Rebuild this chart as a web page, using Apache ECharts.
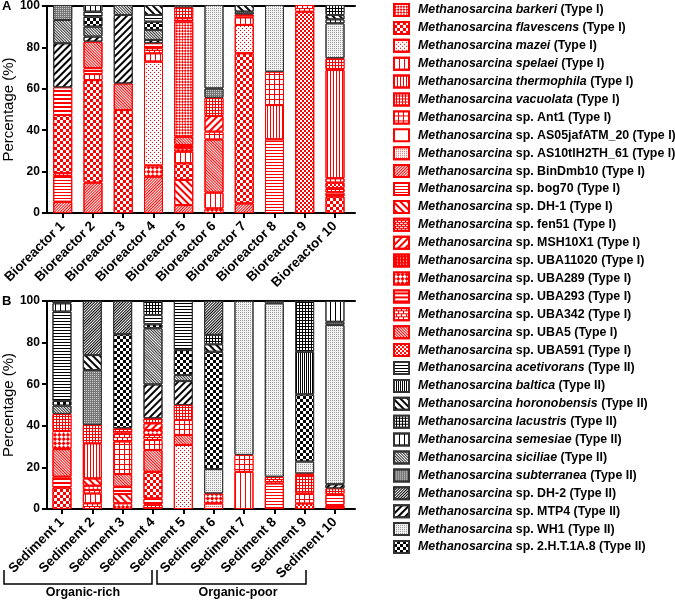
<!DOCTYPE html>
<html><head><meta charset="utf-8">
<script src="https://cdn.jsdelivr.net/npm/echarts@6/dist/echarts.min.js"></script>
<style>html,body{margin:0;padding:0;background:#fff}#c{width:675px;height:601px}</style>
</head><body><div id="c"></div>
<script>
// ---------- DATA ----------
const bioreactorNames = ['Bioreactor 1','Bioreactor 2','Bioreactor 3','Bioreactor 4','Bioreactor 5','Bioreactor 6','Bioreactor 7','Bioreactor 8','Bioreactor 9','Bioreactor 10'];
const sedimentNames = ['Sediment 1','Sediment 2','Sediment 3','Sediment 4','Sediment 5','Sediment 6','Sediment 7','Sediment 8','Sediment 9','Sediment 10'];
const yTicks = [0, 20, 40, 60, 80, 100];

const speciesKeys = ['barkeri','flavescens','mazei','spelaei','thermophila','vacuolata','Ant1','AS05','AS10','BinDmb10','bog70','DH-1','fen51','MSH10X1','UBA11020','UBA289','UBA293','UBA342','UBA5','UBA591',
  'acetivorans','baltica','horonobensis','lacustris','semesiae','siciliae','subterranea','DH-2','MTP4','WH1','2HT'];
const speciesNames = [
  'Methanosarcina barkeri (Type I)','Methanosarcina flavescens (Type I)','Methanosarcina mazei (Type I)','Methanosarcina spelaei (Type I)',
  'Methanosarcina thermophila (Type I)','Methanosarcina vacuolata (Type I)','Methanosarcina sp. Ant1 (Type I)','Methanosarcina sp. AS05jafATM_20 (Type I)',
  'Methanosarcina sp. AS10tlH2TH_61 (Type I)','Methanosarcina sp. BinDmb10 (Type I)','Methanosarcina sp. bog70 (Type I)','Methanosarcina sp. DH-1 (Type I)',
  'Methanosarcina sp. fen51 (Type I)','Methanosarcina sp. MSH10X1 (Type I)','Methanosarcina sp. UBA11020 (Type I)','Methanosarcina sp. UBA289 (Type I)',
  'Methanosarcina sp. UBA293 (Type I)','Methanosarcina sp. UBA342 (Type I)','Methanosarcina sp. UBA5 (Type I)','Methanosarcina sp. UBA591 (Type I)',
  'Methanosarcina acetivorans (Type II)','Methanosarcina baltica (Type II)','Methanosarcina horonobensis (Type II)','Methanosarcina lacustris (Type II)',
  'Methanosarcina semesiae (Type II)','Methanosarcina siciliae (Type II)','Methanosarcina subterranea (Type II)','Methanosarcina sp. DH-2 (Type II)',
  'Methanosarcina sp. MTP4 (Type II)','Methanosarcina sp. WH1 (Type II)','Methanosarcina sp. 2.H.T.1A.8 (Type II)'];

// stacked segments, bottom to top: [species, percentage]
const bioreactor1 = [['BinDmb10',5.4],['bog70',12.4],['fen51',1.3],['flavescens',28],['UBA293',13.3],['MTP4',21.2],['siciliae',11.2],['subterranea',7.2]];
const bioreactor2 = [['BinDmb10',14.6],['flavescens',49.3],['Ant1',2.9],['UBA293',2.8],['UBA5',12.8],['MTP4',2.4],['siciliae',4.8],['2HT',4.8],['acetivorans',2.4],['semesiae',3.2]];
const bioreactor3 = [['flavescens',49.5],['UBA5',12.8],['MTP4',32.9],['siciliae',4.8]];
const bioreactor4 = [['BinDmb10',17.5],['UBA289',5.3],['mazei',50],['spelaei',4],['UBA342',2.4],['UBA293',2.4],['MTP4',1.6],['siciliae',4.8],['2HT',4],['acetivorans',3.2],['horonobensis',4.8]];
const bioreactor5 = [['BinDmb10',3.8],['DH-1',12.1],['flavescens',8],['spelaei',5.6],['UBA289',1.6],['UBA293',1.6],['UBA5',4],['barkeri',55.3],['UBA342',1.6],['vacuolata',5.3],['lacustris',1.1]];
const bioreactor6 = [['UBA289',2.2],['spelaei',7.6],['UBA5',25.6],['Ant1',3.7],['MSH10X1',7.5],['vacuolata',8.8],['subterranea',4.5],['WH1',40.1]];
const bioreactor7 = [['BinDmb10',4.6],['flavescens',72.2],['mazei',13.6],['spelaei',3.7],['UBA293',1.4],['subterranea',1.3],['horonobensis',3.2]];
const bioreactor8 = [['bog70',35.4],['thermophila',16.5],['Ant1',16],['WH1',32.1]];
const bioreactor9 = [['UBA591',96.8],['UBA342',3.2]];
const bioreactor10 = [['flavescens',7.9],['UBA293',1.9],['fen51',2.1],['UBA591',2.7],['spelaei',2.1],['thermophila',52.1],['vacuolata',5.6],['WH1',16.8],['semesiae',1.9],['horonobensis',2.1],['lacustris',4.8]];

const sediment1 = [['flavescens',10.3],['UBA293',5.2],['UBA5',13.3],['UBA289',8.7],['vacuolata',8.2],['siciliae',4],['2HT',2.2],['acetivorans',43],['semesiae',4],['lacustris',1.1]];
const sediment2 = [['UBA342',2.7],['spelaei',4.8],['Ant1',1.6],['UBA289',2.1],['DH-1',3.5],['thermophila',16.9],['vacuolata',8.8],['subterranea',26.4],['horonobensis',7.2],['DH-2',26]];
const sediment3 = [['UBA289',2.7],['DH-1',4.5],['UBA293',3.5],['UBA5',6.1],['Ant1',15.6],['UBA342',4],['fen51',2.4],['2HT',45.2],['DH-2',16]];
const sediment4 = [['fen51',2.2],['UBA293',2.9],['flavescens',12.8],['UBA5',10.5],['Ant1',4.8],['UBA342',2.4],['UBA289',2.4],['MSH10X1',3.2],['vacuolata',2.4],['MTP4',16.3],['siciliae',27],['2HT',1.9],['acetivorans',4.5],['lacustris',6.7]];
const sediment5 = [['mazei',30.8],['UBA5',4.8],['Ant1',7.2],['vacuolata',7.2],['MTP4',11.5],['siciliae',2.9],['2HT',12],['acetivorans',23.6]];
const sediment6 = [['AS10',2.7],['UBA289',4.8],['WH1',11.7],['2HT',56.4],['horonobensis',3.6],['lacustris',4.5],['DH-2',16.3]];
const sediment7 = [['spelaei',17.9],['Ant1',8.1],['WH1',74]];
const sediment8 = [['bog70',12.3],['fen51',3.2],['WH1',83.4],['subterranea',1.1]];
const sediment9 = [['UBA591',2.7],['Ant1',4.8],['vacuolata',8.8],['UBA11020',0.8],['WH1',5.7],['2HT',32.3],['baltica',20.5],['lacustris',24.4]];
const sediment10 = [['UBA293',1.9],['bog70',5.2],['vacuolata',2.8],['MTP4',2],['WH1',76.6],['subterranea',1.5],['semesiae',10]];

const bioreactorSamples = [bioreactor1,bioreactor2,bioreactor3,bioreactor4,bioreactor5,bioreactor6,bioreactor7,bioreactor8,bioreactor9,bioreactor10];
const sedimentSamples = [sediment1,sediment2,sediment3,sediment4,sediment5,sediment6,sediment7,sediment8,sediment9,sediment10];

// ---------- STYLES (patterns) ----------
const R = '#ff0000', K = '#000000';
const base = {symbol:'rect', symbolSize:1, symbolKeepAspect:false};
const hatch = (c, w, gap, rot) => Object.assign({}, base, {color:c, dashArrayX:[1,0], dashArrayY:[w,gap], rotation:rot||0});
const vlines = (c, w, gap) => Object.assign({}, base, {color:c, dashArrayX:[w,gap], dashArrayY:[1,0]});
const checker = (c, s, rot) => Object.assign({}, base, {color:c, dashArrayX:[[s,s],[0,s,s,0]], dashArrayY:[s,0], rotation:rot||0});
const cells = (c, s, gap) => Object.assign({}, base, {color:c, dashArrayX:[s,gap], dashArrayY:[s,gap]});
const P4 = Math.PI/4;
const patterns = {
  'barkeri':{c:'#fff', d:checker(R,2,P4)},
  'flavescens':{c:'#fff', d:checker(R,3)},
  'mazei':{c:'#fff', d:Object.assign({}, base, {color:R, dashArrayX:[[1,3],[0,2,1,1]], dashArrayY:[1,1]})},
  'spelaei':{c:'#fff', d:vlines(R,1,4)},
  'thermophila':{c:'#fff', d:vlines(R,1,2)},
  'vacuolata':{c:R, d:cells('#fff',2,1)},
  'Ant1':{c:R, d:cells('#fff',4,1)},
  'AS05':{c:'#fff', d:null},
  'AS10':{c:'#fff', d:cells('#ff5050',1,1)},
  'BinDmb10':{c:'#fff', d:hatch(R,1,1,-P4)},
  'bog70':{c:'#fff', d:hatch(R,1,2)},
  'DH-1':{c:'#fff', d:hatch(R,2,3,P4)},
  'fen51':{c:R, d:Object.assign({}, base, {color:'#fff', dashArrayX:[[3,1],[1,1,2,0]], dashArrayY:[1,1]})},
  'MSH10X1':{c:'#fff', d:hatch(R,2,3,-P4)},
  'UBA11020':{c:R, d:cells('#fff',1,2)},
  'UBA289':{c:R, d:checker('#fff',3,P4)},
  'UBA293':{c:R, d:hatch('#fff',2,2)},
  'UBA342':{c:R, d:Object.assign({}, base, {color:'#fff', dashArrayX:[[4,1],[2,1,2,0]], dashArrayY:[2,1]})},
  'UBA5':{c:'#fff', d:hatch(R,1,1,P4)},
  'UBA591':{c:'#fff', d:checker(R,2)},
  'acetivorans':{c:'#fff', d:hatch(K,1,2)},
  'baltica':{c:'#fff', d:vlines(K,1,1)},
  'horonobensis':{c:'#fff', d:hatch(K,2,3,P4)},
  'lacustris':{c:K, d:cells('#fff',2,1)},
  'semesiae':{c:'#fff', d:vlines(K,1,4)},
  'siciliae':{c:'#fff', d:hatch('#333',1,1,P4)},
  'subterranea':{c:'#777', d:cells('#ccc',1,1)},
  'DH-2':{c:'#fff', d:hatch(K,1,1,-P4)},
  'MTP4':{c:'#fff', d:hatch(K,2,3,-P4)},
  'WH1':{c:'#f2f2f2', d:cells('#999',1,1)},
  '2HT':{c:'#fff', d:checker(K,3)}
};
function styleFor(key){
  const p = patterns[key];
  const t2 = speciesKeys.indexOf(key) >= 20;
  const s = {color:p.c, borderColor: t2 ? '#333' : R, borderWidth:1};
  if (p.d) s.decal = p.d;
  return s;
}

// ---------- CHART ----------
const FF = 'Liberation Sans, Arial, sans-serif';
const lineStyle = {color:'#000', width:2};
// grids: frame (axis box) and data (bars, category positions)
function frameX(g){
  return [
    {type:'value', gridIndex:g, min:0, max:1, position:'bottom', axisLine:{show:true, onZero:false, lineStyle}, axisTick:{show:false}, axisLabel:{show:false}, splitLine:{show:false}},
    {type:'value', gridIndex:g, min:0, max:1, position:'top', axisLine:{show:true, onZero:false, lineStyle}, axisTick:{show:false}, axisLabel:{show:false}, splitLine:{show:false}}
  ];
}
function dataX(g, names){
  return {type:'category', gridIndex:g, data:names, position:'bottom',
    axisLine:{show:false, onZero:false}, axisTick:{show:true, alignWithLabel:true, length:5, lineStyle},
    axisLabel:{interval:0, rotate:45, margin:11, color:'#000', fontFamily:FF, fontWeight:'bold', fontSize:13.5},
    splitLine:{show:false}};
}
function frameY(g){
  return [{
    type:'value', gridIndex:g, min:yTicks[0], max:yTicks[yTicks.length-1], interval:20, position:'left',
    name:'Percentage (%)', nameLocation:'middle', nameGap:25,
    nameTextStyle:{fontFamily:FF, fontSize:15, color:'#000'},
    axisLine:{show:true, lineStyle}, axisTick:{show:true, length:5, lineStyle},
    axisLabel:{margin:7, color:'#000', fontFamily:FF, fontWeight:'bold', fontSize:12},
    splitLine:{show:false}
  },{
    type:'value', gridIndex:g, min:yTicks[0], max:yTicks[yTicks.length-1], interval:20, position:'right',
    axisLine:{show:true, lineStyle}, axisTick:{show:true, inside:true, length:5, lineStyle},
    axisLabel:{show:false}, splitLine:{show:false}
  }];
}
function dataY(g){
  return {type:'value', gridIndex:g, min:yTicks[0], max:yTicks[yTicks.length-1], show:false, splitLine:{show:false}};
}
function layers(samples, ax, st){
  const n = Math.max.apply(null, samples.map(s => s.length));
  const out = [];
  for (let k = 0; k < n; k++){
    out.push({
      type:'bar', name:'layer_'+st+'_'+k, xAxisIndex:ax, yAxisIndex:ax, stack:st, barWidth:19, silent:true,
      data: samples.map(s => s[k] ? {value:s[k][1], itemStyle:styleFor(s[k][0])} : {value:'-'})
    });
  }
  return out;
}
const legendSeries = speciesNames.map((nm, i) => ({
  type:'bar', name:nm, xAxisIndex:2, yAxisIndex:2, stack:'sA', barWidth:19, data:[],
  itemStyle:styleFor(speciesKeys[i])
}));

const chart = echarts.init(document.getElementById('c'), null, {renderer:'canvas'});
chart.setOption({
  animation:false,
  backgroundColor:'#fff',
  grid:[
    {left:42, top:5, width:313, height:208},
    {left:46.83, top:5, width:303.3, height:208},
    {left:42, top:301, width:313, height:208},
    {left:46.83, top:301, width:303.3, height:208}
  ],
  xAxis: frameX(0).concat([dataX(1, bioreactorNames)]).concat(frameX(2)).concat([dataX(3, sedimentNames)]),
  yAxis: frameY(0).concat([dataY(1)]).concat(frameY(2)).concat([dataY(3)]),
  legend:{
    orient:'vertical', left:393, top:3, padding:0, itemWidth:15, itemHeight:12, itemGap:3.9, selectedMode:false,
    data:speciesNames,
    icon:'rect',
    textStyle:{fontFamily:FF, fontSize:12.4, color:'#000', padding:[0,0,0,4],
      rich:{i:{fontFamily:FF, fontSize:12.4, fontStyle:'italic', fontWeight:'bold', color:'#000'},
            n:{fontFamily:FF, fontSize:12.4, fontWeight:'bold', color:'#000'}}},
    formatter: name => {
      const p = name.indexOf(' (');
      const main = name.slice(0, p), type = name.slice(p);
      if (main.indexOf(' sp. ') >= 0){
        const q = main.indexOf(' sp. ');
        return '{i|' + main.slice(0, q) + '}{n|' + main.slice(q) + type + '}';
      }
      return '{i|' + main + '}{n|' + type + '}';
    }
  },
  graphic:[
    {type:'text', left:2, top:0, style:{text:'A', fontFamily:FF, fontWeight:'bold', fontSize:13, fill:'#000'}},
    {type:'text', left:2, top:295, style:{text:'B', fontFamily:FF, fontWeight:'bold', fontSize:13, fill:'#000'}},
    {type:'polyline', shape:{points:[[4,570],[4,584],[152,584],[152,570]]}, style:{stroke:'#000', lineWidth:1.5, fill:null}},
    {type:'polyline', shape:{points:[[157,570],[157,584],[306,584],[306,570]]}, style:{stroke:'#000', lineWidth:1.5, fill:null}},
    {type:'text', x:83, y:593, style:{text:'Organic-rich', fontFamily:FF, fontWeight:'bold', fontSize:12.5, fill:'#000', align:'center', verticalAlign:'middle'}},
    {type:'text', x:238, y:593, style:{text:'Organic-poor', fontFamily:FF, fontWeight:'bold', fontSize:12.5, fill:'#000', align:'center', verticalAlign:'middle'}}
  ],
  series: layers(bioreactorSamples, 2, 'sA').concat(layers(sedimentSamples, 5, 'sB')).concat(legendSeries)
});
</script></body></html>
